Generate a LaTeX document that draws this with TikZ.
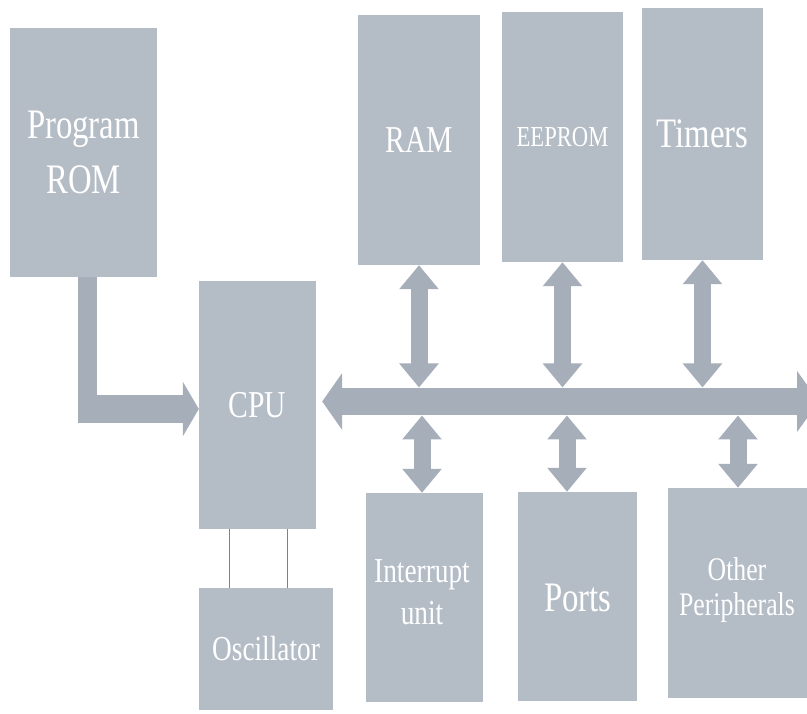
\documentclass[tikz,border=0pt]{standalone}
\usepackage{fontspec}
\setmainfont{Liberation Serif}[FakeStretch=0.78]
\usetikzlibrary{arrows.meta}
\definecolor{boxgray}{RGB}{180,188,198}
\definecolor{arrgray}{RGB}{166,174,185}
\definecolor{wiregray}{RGB}{125,130,136}
\tikzset{
  blk/.style={fill=boxgray, draw=none, inner sep=0pt, text=white, align=center},
  fs/.style args={#1/#2}{font=\fontsize{#1}{#2}\selectfont},
  fat/.style={draw=arrgray, line width=#1, line cap=butt},
  dbl/.style={fat=17pt, {Triangle[width=38pt,length=24pt]}-{Triangle[width=38pt,length=24pt]}},
  wire/.style={draw=wiregray, line width=0.8pt}
}
\begin{document}
\begin{tikzpicture}[x=1pt,y=-1pt]
\useasboundingbox[fill=white] (0,0) rectangle (807,714);
% boxes
\node[blk, fs=42/55, minimum width=147pt, minimum height=249pt] (prom) at (83.5,152.5) {Program\\ROM};
\node[blk, fs=38/46, minimum width=117pt, minimum height=248pt] (cpu) at (257.5,405) {CPU};
\node[blk, fs=38/46, minimum width=122pt, minimum height=250pt] (ram) at (419,140) {RAM};
\node[blk, fs=29/36, minimum width=121pt, minimum height=250pt] (eeprom) at (562.5,137) {EEPROM};
\node[blk, fs=42/50, minimum width=121pt, minimum height=252pt] (timers) at (702.5,134) {Timers};
\node[blk, minimum width=117pt, minimum height=209pt] (intr) at (424.5,597.5) {};
\node[fs=35/42, text=white, align=center] (intrtxt) at (422,592) {Interrupt\\unit};
\node[blk, minimum width=119pt, minimum height=209pt] (ports) at (577.5,596.5) {};
\node[fs=42/50, text=white] (portstxt) at (578,598) {Ports};
\node[blk, minimum width=140pt, minimum height=210pt] (other) at (738,593) {};
\node[fs=33/35, text=white, align=center] (othertxt) at (737,590) {Other\\Peripherals};
\node[blk, fs=35/42, minimum width=134pt, minimum height=122pt] (osc) at (266,649) {Oscillator};
% bus
\coordinate (busend) at (819,401.5);
\draw[fat=27pt, {Triangle[width=56pt,length=20pt]}-{Triangle[width=60pt,length=22pt]}, shorten <=6pt]
  (cpu.east |- busend) -- (busend);
% upper double arrows
\draw[dbl] (ram.south) -- ([yshift=14pt]ram.south |- busend);
\draw[dbl] (eeprom.south) -- ([yshift=14pt]eeprom.south |- busend);
\draw[dbl] (timers.south) -- ([yshift=14pt]timers.south |- busend);
% lower double arrows
\draw[dbl] ([xshift=-2.5pt,yshift=-14pt]intr.north |- busend) -- ([xshift=-2.5pt]intr.north);
\draw[dbl] ([xshift=-10.5pt,yshift=-14pt]ports.north |- busend) -- ([xshift=-10.5pt]ports.north);
\draw[dbl] ([yshift=-14pt]other.north |- busend) -- (other.north);
% program ROM to CPU
\coordinate (corner) at ([xshift=4pt]prom.south |- 0,423);
\draw[fat=19pt] ([xshift=4pt]prom.south) -- (corner);
\draw[fat=28pt, -{Triangle[width=54pt,length=16pt]}] ([xshift=-9.5pt]corner |- cpu.west) ++(0,4) -- ([yshift=-4pt]cpu.west);
% oscillator wires
\draw[wire] ([xshift=-28.5pt]cpu.south) -- ([xshift=-28.5pt]cpu.south |- osc.north);
\draw[wire] ([xshift=29.5pt]cpu.south) -- ([xshift=29.5pt]cpu.south |- osc.north);
\end{tikzpicture}
\end{document}
